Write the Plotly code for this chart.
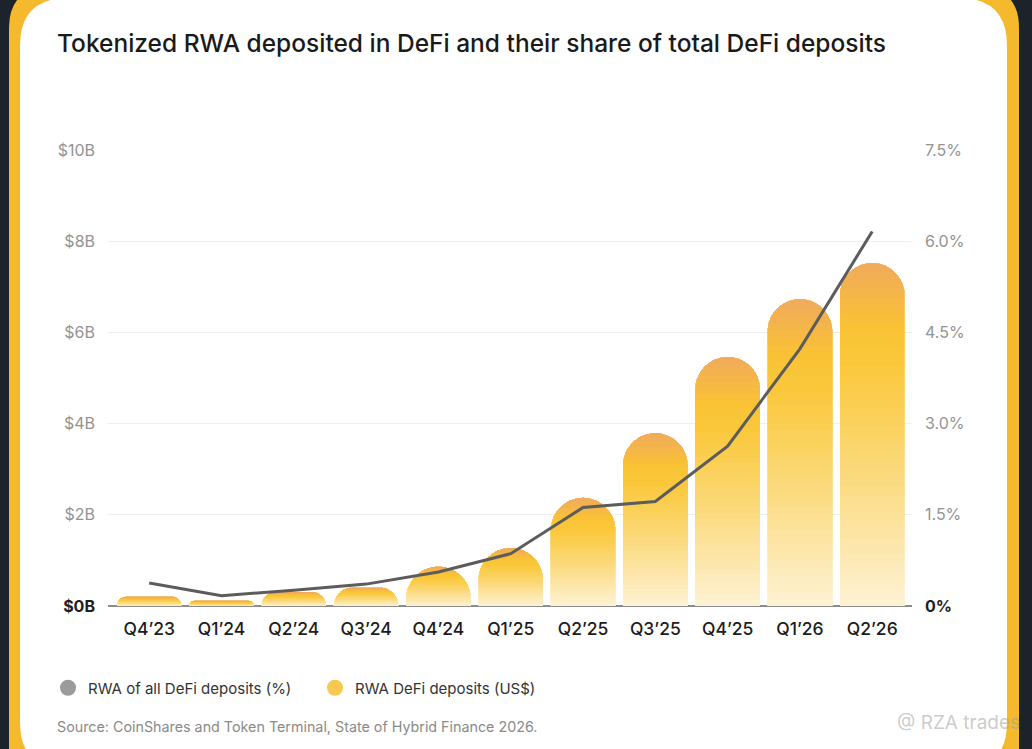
import plotly.graph_objects as go

# data
quarters = ["Q4’23", "Q1’24", "Q2’24", "Q3’24", "Q4’24", "Q1’25",
            "Q2’25", "Q3’25", "Q4’25", "Q1’26", "Q2’26"]
rwa_deposits_bn = [0.20, 0.11, 0.30, 0.40, 0.86, 1.27, 2.37, 3.79, 5.46, 6.73, 7.52]
rwa_share_pct = [0.38, 0.17, 0.26, 0.36, 0.56, 0.86, 1.62, 1.72, 2.63, 4.23, 6.16]

left_ticks = [0, 2, 4, 6, 8, 10]
left_labels = ["<span style='color:#1f1f1f'><b>$0B</b></span>", "$2B", "$4B", "$6B", "$8B", "$10B"]
right_ticks = [0, 1.5, 3.0, 4.5, 6.0, 7.5]
right_labels = ["<span style='color:#1f1f1f'><b>0%</b></span>", "1.5%", "3.0%", "4.5%", "6.0%", "7.5%"]

FONT = "Inter"
W, H = 1032, 749
L, R, T, B = 108, 120, 150, 143
PW, PH = W - L - R, H - T - B


def px_x(x):
    return (x - L) / PW


def px_y(y):
    return (H - B - y) / PH


def rounded_rect(x0, y0, x1, y1, r):
    pts = [
        ("M", [(x0 + r, y0)]), ("L", [(x1 - r, y0)]), ("Q", [(x1, y0), (x1, y0 + r)]),
        ("L", [(x1, y1 - r)]), ("Q", [(x1, y1), (x1 - r, y1)]),
        ("L", [(x0 + r, y1)]), ("Q", [(x0, y1), (x0, y1 - r)]),
        ("L", [(x0, y0 + r)]), ("Q", [(x0, y0), (x0 + r, y0)]),
    ]
    path = ""
    for cmd, ps in pts:
        path += cmd + " " + " ".join(f"{px_x(a):.5f},{px_y(b):.5f}" for a, b in ps) + " "
    return path + "Z"


# vertical gradient for the bars: top orange -> yellow -> pale cream
stops = [(0.0, (240, 170, 92)), (0.18, (249, 194, 52)), (0.3, (250, 200, 60)),
         (0.6, (251, 217, 122)), (1.0, (253, 242, 212))]


def grad(t):
    for (t0, c0), (t1, c1) in zip(stops, stops[1:]):
        if t <= t1:
            f = (t - t0) / (t1 - t0)
            return "rgb(%d,%d,%d)" % tuple(round(a + (b - a) * f) for a, b in zip(c0, c1))
    return "rgb(%d,%d,%d)" % stops[-1][1]


fig = go.Figure()

n_seg = 40
for i in range(n_seg):
    # segment i counted from the bottom; colour by distance from the top
    t = 1 - (i + 0.5) / n_seg
    c = grad(t)
    fig.add_trace(go.Bar(
        x=quarters,
        y=[v / n_seg for v in rwa_deposits_bn],
        marker=dict(color=c, line=dict(width=0.8, color=c)),
        width=0.89,
        showlegend=False,
        hoverinfo="skip",
        name="RWA DeFi deposits (US$)",
    ))

fig.add_trace(go.Scatter(
    x=quarters, y=rwa_share_pct, yaxis="y2", mode="lines",
    line=dict(color="#5c5c5c", width=3),
    name="RWA of all DeFi deposits (%)", showlegend=False,
))

# legend entries
fig.add_trace(go.Scatter(x=[None], y=[None], mode="markers",
                         marker=dict(size=16, color="#9b9b9b"),
                         name="RWA of all DeFi deposits (%)"))
fig.add_trace(go.Scatter(x=[None], y=[None], mode="markers",
                         marker=dict(size=16, color="#f9c850"),
                         name="RWA DeFi deposits (US$)"))

shapes = [
    dict(type="path", xref="paper", yref="paper", layer="below",
         path=rounded_rect(9, -12, 1019, 795, 40), fillcolor="#f4b92c", line=dict(width=0)),
    dict(type="path", xref="paper", yref="paper", layer="below",
         path=rounded_rect(20, -2, 1007, 770, 48), fillcolor="#ffffff", line=dict(width=0)),
]

fig.update_layout(
    width=W, height=H,
    margin=dict(l=L, r=R, t=T, b=B),
    paper_bgcolor="#1d232a",
    plot_bgcolor="rgba(0,0,0,0)",
    barmode="stack",
    bargap=0.1,
    barcornerradius="50%",
    font=dict(family=FONT, color="#222"),
    title=dict(
        text="Tokenized RWA deposited in DeFi and their share of total DeFi deposits",
        x=57 / W, xanchor="left", y=1 - 43 / H, yanchor="middle",
        xref="container", yref="container",
        font=dict(family=FONT, size=24.5, color="#1a1a1a", weight=500),
    ),
    xaxis=dict(
        type="category", range=[-0.57, 10.55],
        showgrid=False, showline=False, zeroline=False,
        tickfont=dict(family=FONT, size=17.5, color="#1c1c1c", weight=500),
        ticks="", ticklabelstandoff=10,
    ),
    yaxis=dict(
        range=[0, 10], tickvals=left_ticks, ticktext=left_labels,
        showgrid=True, gridcolor="#efefef", gridwidth=1,
        zeroline=True, zerolinecolor="#8c8c8c", zerolinewidth=2,
        showline=False, ticks="", ticklabelstandoff=12,
        tickfont=dict(family=FONT, size=16, color="#939393"),
    ),
    yaxis2=dict(
        range=[0, 7.5], tickvals=right_ticks, ticktext=right_labels,
        overlaying="y", side="right",
        showgrid=False, zeroline=False, showline=False,
        ticks="", ticklabelstandoff=12,
        tickfont=dict(family=FONT, size=16, color="#939393"),
    ),
    showlegend=True,
    legend=dict(
        orientation="h", x=px_x(48), xanchor="left", y=px_y(688), yanchor="middle",
        font=dict(family=FONT, size=15, color="#333"),
        entrywidth=222, bgcolor="rgba(0,0,0,0)", traceorder="normal",
    ),
    shapes=shapes,
    annotations=[
        dict(text="Source: CoinShares and Token Terminal, State of Hybrid Finance 2026.",
             xref="paper", yref="paper", x=px_x(55), y=px_y(726),
             xanchor="left", yanchor="middle", showarrow=False,
             font=dict(family=FONT, size=14.3, color="#8a8a8a")),
        dict(text="@ RZA trades",
             xref="paper", yref="paper", x=px_x(1022), y=px_y(722),
             xanchor="right", yanchor="middle", showarrow=False,
             font=dict(family=FONT, size=19, color="rgba(160,160,160,0.55)")),
    ],
)

# drop the browser's default 8px body margin so the figure fills the window
fig.write_html("out.html", config={"displayModeBar": False},
               post_script="document.body.style.margin='0';"
               "document.body.style.background='#1d232a';")
